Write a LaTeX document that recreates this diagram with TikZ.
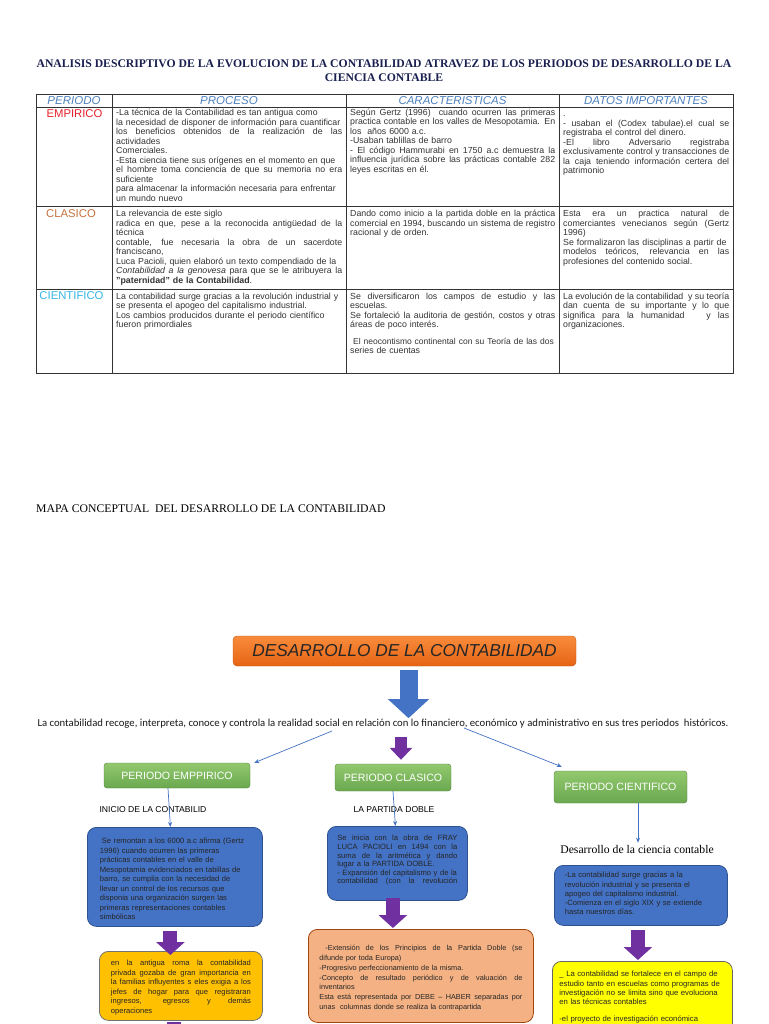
\documentclass[tikz,border=0pt]{standalone}
\usepackage{fontspec}
\setmainfont{Liberation Serif}
\setsansfont{Liberation Sans}
\newfontfamily\calibfont{Carlito}
\usetikzlibrary{arrows.meta, positioning, calc}
\definecolor{titlenavy}{RGB}{25,32,80}
\definecolor{headblue}{RGB}{79,129,189}
\definecolor{emred}{RGB}{232,30,40}
\definecolor{clbrown}{RGB}{196,112,60}
\definecolor{cicyan}{RGB}{51,181,229}
\definecolor{boxblue}{RGB}{68,114,196}
\definecolor{boxblueline}{RGB}{47,82,143}
\definecolor{arrowpurple}{RGB}{112,48,160}
\definecolor{greenA}{RGB}{146,200,110}
\definecolor{greenB}{RGB}{106,168,79}
\definecolor{orangeA}{RGB}{248,140,60}
\definecolor{orangeB}{RGB}{230,100,20}
\definecolor{goldfill}{RGB}{255,192,0}
\definecolor{salmonfill}{RGB}{244,177,131}
\definecolor{yellowfill}{RGB}{255,255,0}
% justified line inside a ragged node
\newcommand{\jl}[1]{{\spaceskip=0pt\xspaceskip=0pt\makebox[\linewidth][s]{#1}}}

\begin{document}
\begin{tikzpicture}[x=1pt, y=-1pt,
  cell/.style={anchor=base west, inner sep=0pt, align=left, text=black!80,
    font=\sffamily\fontsize{8.8}{9.5}\selectfont},
  colhead/.style={inner sep=0pt, text=headblue, font=\sffamily\itshape\fontsize{11.5}{12}\selectfont},
  periodname/.style={inner sep=0pt, font=\sffamily\fontsize{11.3}{12}\selectfont},
  periodbox/.style={rounded corners=3pt, draw=greenB!80!black, top color=greenA, bottom color=greenB,
    text=white, font=\sffamily\fontsize{10.6}{12}\selectfont},
  sublabel/.style={inner sep=1pt, font=\sffamily\fontsize{8.6}{10}\selectfont},
  mapbox/.style={anchor=north west, rounded corners=9pt, line width=0.8pt, inner ysep=0pt,
    align=left, text=black!85, font=\sffamily\fontsize{7.6}{9.5}\selectfont},
  bluebox/.style={mapbox, fill=boxblue, draw=boxblueline},
  thinarrow/.style={-{Stealth[length=5pt,width=4pt]}, draw=boxblue, line width=0.7pt},
  blockarrow/.style={line width=14pt, draw=arrowpurple, -{Triangle[width=28pt,length=13pt]}}
]
\fill[white] (0,0) rectangle (768,1024);
\useasboundingbox (0,0) rectangle (768,1024);
\clip (0,0) rectangle (768,1024);

% title
\node[align=center, text=titlenavy, font=\rmfamily\bfseries\fontsize{11.7}{14}\selectfont] (heading) at (384,71)
  {ANALISIS DESCRIPTIVO DE LA EVOLUCION DE LA CONTABILIDAD ATRAVEZ DE LOS PERIODOS DE DESARROLLO DE LA\\
   CIENCIA CONTABLE};

% table frame
\draw[black!80, line width=0.8pt] (36,94) rectangle (733,373);
\foreach \y in {107,206,289}
  \draw[black!80, line width=0.8pt] (36,\y) -- (733,\y);
\foreach \x in {112,346,559}
  \draw[black!80, line width=0.8pt] (\x,94) -- (\x,373);

\node[colhead] (hdperiodo) at (74,100.5) {PERIODO};
\node[colhead] (hdproceso) at (229,100.5) {PROCESO};
\node[colhead] (hdcaract) at (452.5,100.5) {CARACTERISTICAS};
\node[colhead] (hddatos) at (646,100.5) {DATOS IMPORTANTES};

\node[periodname, text=emred] (empirico) at (74.5,114) {EMPIRICO};
\node[periodname, text=clbrown] (clasico) at (71,214) {CLASICO};
\node[periodname, text=cicyan] (cientifico) at (71.5,296) {CIENTIFICO};

% empirico row
\node[cell, text width=226] (empproc) at (116,116) {%
  -La técnica de la Contabilidad es tan antigua como\\
  la necesidad de disponer de información para cuantificar\\
  \jl{los beneficios obtenidos de la realización de las}\\
  actividades\\
  Comerciales.\\
  -Esta ciencia tiene sus orígenes en el momento en que\\
  \jl{el hombre toma conciencia de que su memoria no era}\\
  suficiente\\
  para almacenar la información necesaria para enfrentar\\
  un mundo nuevo};
\node[cell, text width=205] (empcar) at (350,115.5) {%
  \jl{Según Gertz (1996)\ \ cuando ocurren las primeras}\\
  \jl{practica contable en los valles de Mesopotamia. En}\\
  los\ \ años 6000 a.c.\\
  -Usaban tablillas de barro\\
  \jl{- El código Hammurabi en 1750 a.c demuestra la}\\
  \jl{influencia jurídica sobre las prácticas contable 282}\\
  leyes escritas en él.};
\node[cell, text width=166] (empdat) at (563,117) {%
  .\\
  \jl{- usaban el (Codex tabulae).el cual se}\\
  registraba el control del dinero.\\
  \jl{-El libro Adversario registraba}\\
  \jl{exclusivamente control y transacciones de}\\
  \jl{la caja teniendo información certera del}\\
  patrimonio};

% clasico row
\node[cell, text width=226] (claproc) at (116,217) {%
  La relevancia de este siglo\\
  \jl{radica en que, pese a la reconocida antigüedad de la}\\
  técnica\\
  \jl{contable, fue necesaria la obra de un sacerdote}\\
  franciscano,\\
  Luca Pacioli, quien elaboró un texto compendiado de la\\
  \jl{\textit{Contabilidad a la genovesa} para que se le atribuyera la}\\
  \textbf{"paternidad" de la Contabilidad}.};
\node[cell, text width=205] (clacar) at (350,217) {%
  \jl{Dando como inicio a la partida doble en la práctica}\\
  \jl{comercial en 1994, buscando un sistema de registro}\\
  racional y de orden.};
\node[cell, text width=166] (cladat) at (563,217) {%
  \jl{Esta era un practica natural de}\\
  \jl{comerciantes venecianos según (Gertz}\\
  1996)\\
  Se formalizaron las disciplinas a partir de\\
  \jl{modelos teóricos, relevancia en las}\\
  profesiones del contenido social.};

% cientifico row
\node[cell, text width=226] (ciproc) at (116,299) {%
  La contabilidad surge gracias a la revolución industrial y\\
  se presenta el apogeo del capitalismo industrial.\\
  Los cambios producidos durante el periodo científico\\
  fueron primordiales};
\node[cell, text width=205] (cicar) at (350,299) {%
  \jl{Se diversificaron los campos de estudio y las}\\
  escuelas.\\
  \jl{Se fortaleció la auditoria de gestión, costos y otras}\\
  áreas de poco interés.\\[7pt]
  {\fontsize{8.5}{9.5}\selectfont\ El neocontismo continental con su Teoría de las dos}\\
  series de cuentas};
\node[cell, text width=166] (cidat) at (563,299) {%
  \jl{La evolución de la contabilidad\ \ y su teoría}\\
  \jl{dan cuenta de su importante y lo que}\\
  \jl{significa para la humanidad\ \ \ y las}\\
  organizaciones.};

% concept map
\node[anchor=west, inner sep=0pt, font=\rmfamily\fontsize{11.7}{13}\selectfont] (maptitle) at (36,509)
  {MAPA CONCEPTUAL\ \ DEL DESARROLLO DE LA CONTABILIDAD};

\node[rounded corners=4pt, draw=orangeB!85!black, top color=orangeA, bottom color=orangeB,
  minimum width=343, minimum height=30, text=black!85,
  font=\sffamily\itshape\fontsize{17.3}{19}\selectfont] (root) at (404.5,651) {DESARROLLO DE LA CONTABILIDAD};
\node[inner sep=1pt, text=black!90, font=\calibfont\fontsize{10.7}{12}\selectfont] (lead) at (383,724)
  {La contabilidad recoge, interpreta, conoce y controla la realidad social en relación con lo financiero, económico y administrativo en sus tres periodos\ \ históricos.};

\node[periodbox, minimum width=146, minimum height=25] (emp) at (177,775.5) {PERIODO EMPPIRICO};
\node[periodbox, minimum width=116, minimum height=27] (cla) at (393,777.5) {PERIODO CLASICO};
\node[periodbox, minimum width=133, minimum height=32] (cie) at (620.5,787) {PERIODO CIENTIFICO};

\node[sublabel] (inicio) at (153,810) {INICIO DE LA CONTABILID};
\node[sublabel] (doble) at (394,810) {LA PARTIDA DOBLE};
\node[inner sep=1pt, font=\rmfamily\fontsize{11.7}{13}\selectfont] (ciencia) at (637,849) {Desarrollo de la ciencia contable};

\node[bluebox, minimum width=175, text width=150, text height=16.5, text depth=82.5] (remontan) at (87,827) {%
  \hspace{2pt}Se remontan a los 6000 a.c afirma (Gertz\\
  1996) cuando ocurren las primeras\\
  prácticas contables en el valle de\\
  Mesopotamia evidenciados en tabillas de\\
  barro, se cumplia con la necesidad de\\
  llevar un control de los recursos que\\
  disponia una organización surgen las\\
  primeras representaciones contables\\
  simbólicas};
\node[bluebox, minimum width=140, text width=120, text height=14.5, text depth=59.5,
  font=\sffamily\fontsize{7.6}{8.6}\selectfont] (pacioli) at (327,826) {%
  \jl{Se inicia con la obra de FRAY}\\
  \jl{LUCA PACIOLI en 1494 con la}\\
  \jl{suma de la aritmética y dando}\\
  lugar a la PARTIDA DOBLE.\\
  - Expansión del capitalismo y de la\\
  \jl{contabilidad (con la revolución}};
\node[bluebox, minimum width=173, text width=152, text height=12.5, text depth=47.5,
  font=\sffamily\fontsize{7.6}{9.2}\selectfont] (industrial) at (554,865) {%
  -La contabilidad surge gracias a la\\
  revolución industrial y se presenta el\\
  apogeo del capitalismo industrial.\\
  -Comienza en el siglo XIX y se extiende\\
  hasta nuestros días.};

\node[mapbox, fill=goldfill, draw=black!55, minimum width=163, text width=140,
  text height=14.5, text depth=54.5] (roma) at (99,951) {%
  \jl{en la antigua roma la contabilidad}\\
  \jl{privada gozaba de gran importancia en}\\
  \jl{la familias influyentes s eles exigia a los}\\
  \jl{jefes de hogar para que registraran}\\
  \jl{ingresos, egresos y demás}\\
  operaciones};
\node[mapbox, fill=salmonfill, draw=orangeB!70!black, minimum width=225, text width=203,
  text height=21.5, text depth=71.5, font=\sffamily\fontsize{7.3}{9.7}\selectfont] (extension) at (308,929) {%
  \jl{\ -Extensión de los Principios de la Partida Doble (se}\\
  difunde por toda Europa)\\
  -Progresivo perfeccionamiento de la misma.\\
  \jl{-Concepto de resultado periódico y de valuación de}\\
  inventarios\\
  \jl{Esta está representada por DEBE -- HABER separadas por}\\
  unas\ \ columnas donde se realiza la contrapartida};
\node[mapbox, fill=yellowfill, draw=black!60, minimum width=180, text width=166,
  text height=15.5, text depth=63.5, font=\sffamily\fontsize{7.7}{9.2}\selectfont] (fortalece) at (552,961) {%
  \_ La contabilidad se fortalece en el campo de\\
  estudio tanto en escuelas como programas de\\
  investigación no se limita sino que evoluciona\\
  en las técnicas contables\\[8pt]
  -el proyecto de investigación económica};

% connectors
\draw[line width=18pt, draw=boxblue, -{Triangle[width=40pt,length=19pt]}]
  ([xshift=4pt,yshift=-4pt]root.south) -- ([xshift=4pt]root.south |- lead.north);
\draw[line width=12pt, draw=arrowpurple, -{Triangle[width=22pt,length=12pt]}]
  ([xshift=18pt,yshift=-7pt]lead.south) -- ([xshift=8pt,yshift=4pt]cla.north);
\coordinate (leftstart) at (332,731);
\coordinate (rightstart) at (464,728);
\draw[thinarrow] (leftstart) -- ([xshift=4pt]emp.north east);
\draw[thinarrow] (rightstart) -- ([shift={(8pt,4pt)}]cie.north west);
\draw[thinarrow] ([xshift=-9pt]emp.south) -- ([xshift=-4.5pt]remontan.north);
\draw[thinarrow] (cla.south) -- ([xshift=-2pt]pacioli.north);
\draw[thinarrow] ([xshift=17.5pt]cie.south) -- ([xshift=1pt,yshift=1pt]ciencia.north);

\draw[blockarrow] ([xshift=-4.5pt,yshift=-4pt]remontan.south) -- ([xshift=-4.5pt,yshift=-4pt]remontan.south |- roma.north);
\draw[blockarrow] ([xshift=-4.5pt,yshift=3pt]pacioli.south) -- ([xshift=-28pt,yshift=1pt]extension.north);
\draw[blockarrow] ([xshift=-3pt,yshift=-4pt]industrial.south) -- ([xshift=-4.5pt,yshift=1pt]fortalece.north);
\fill[arrowpurple] ([xshift=-14pt,yshift=-1pt]roma.south) rectangle ++(14,10);
\end{tikzpicture}
\end{document}
